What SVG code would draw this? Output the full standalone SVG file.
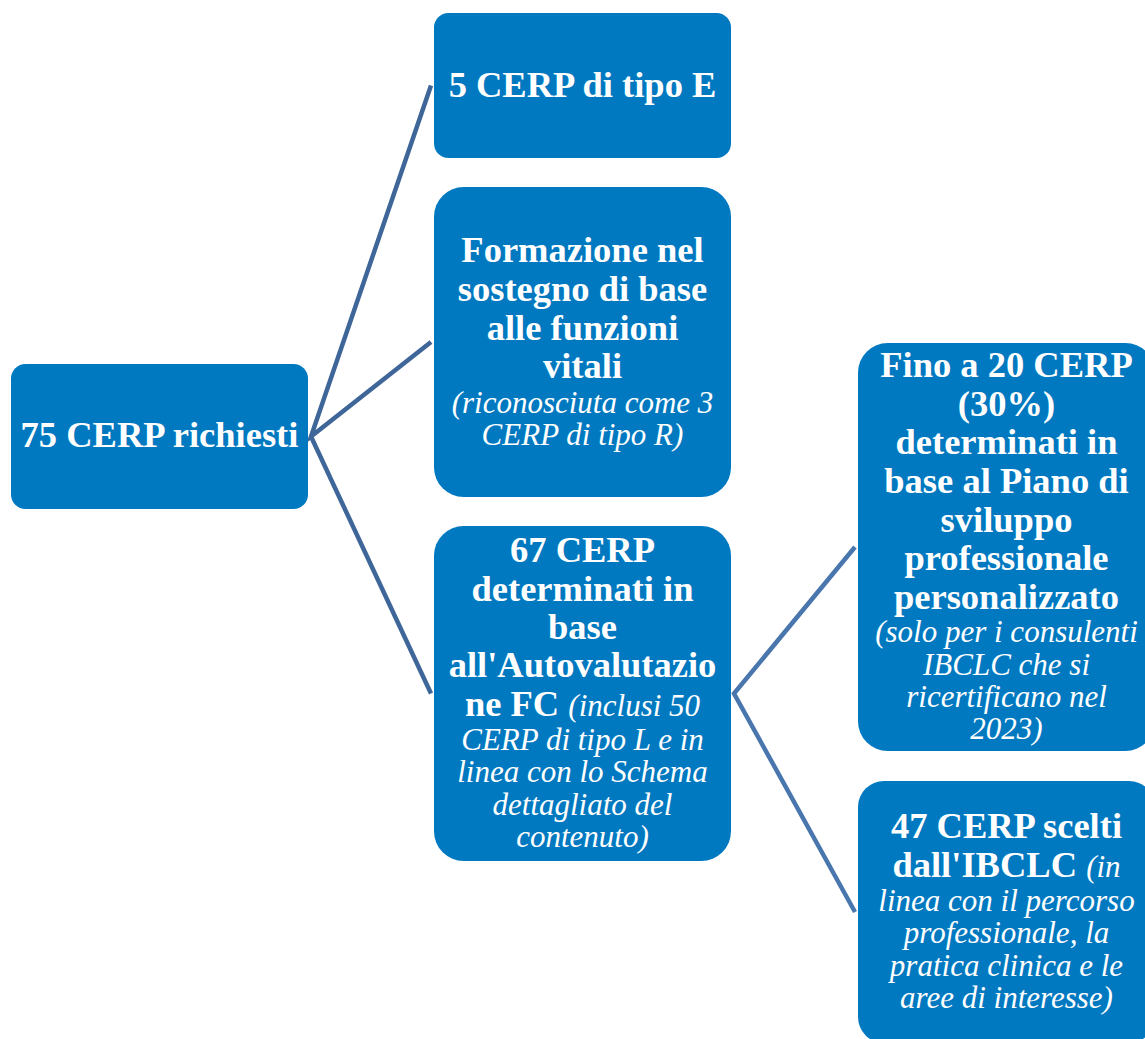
<svg xmlns="http://www.w3.org/2000/svg" width="1145" height="1039" viewBox="0 0 1145 1039">
<style>
.box{fill:#0179c1;}
.c1{stroke:#3f6699;stroke-width:4.5;fill:none;stroke-linejoin:miter;}
.c2{stroke:#4a76ae;stroke-width:4.5;fill:none;stroke-linejoin:miter;}
text{fill:#ffffff;font-family:"Liberation Serif","Times New Roman",serif;text-anchor:middle;}
.b{font-weight:bold;font-size:36.5px;}
.i{font-style:italic;font-weight:normal;font-size:31px;}
</style>
<rect width="1145" height="1039" fill="#ffffff"/>
<g id="connectors">
<polyline class="c1" points="431,85.5 311,436.5 431,342"/>
<line class="c1" x1="311" y1="436.5" x2="431" y2="693.5"/>
<polyline class="c2" points="855,547 734,693.5 855,912"/>
</g>
<g id="node-root">
<rect class="box" x="11" y="364" width="297" height="145" rx="14.5"/>
<text class="b" x="159.5" y="447">75 CERP richiesti</text>
</g>
<g id="node-e">
<rect class="box" x="434" y="13" width="297" height="145" rx="14.5"/>
<text class="b" x="582.5" y="97">5 CERP di tipo E</text>
</g>
<g id="node-formazione">
<rect class="box" x="434" y="187" width="297" height="310" rx="29.7"/>
<text class="b" x="582.5"><tspan x="582.5" y="262">Formazione nel</tspan><tspan x="582.5" y="301">sostegno di base</tspan><tspan x="582.5" y="340">alle funzioni</tspan><tspan x="582.5" y="378">vitali</tspan></text>
<text class="i" x="582.5"><tspan x="582.5" y="413">(riconosciuta come 3</tspan><tspan x="582.5" y="445">CERP di tipo R)</tspan></text>
</g>
<g id="node-67">
<rect class="box" x="434" y="526" width="297" height="335" rx="29.7"/>
<text class="b" x="582.5"><tspan x="582.5" y="562">67 CERP</tspan><tspan x="582.5" y="601">determinati in</tspan><tspan x="582.5" y="639">base</tspan><tspan x="582.5" y="677">all'Autovalutazio</tspan><tspan x="582.5" y="716">ne FC <tspan class="i">(inclusi 50</tspan></tspan></text>
<text class="i" x="582.5"><tspan x="582.5" y="750">CERP di tipo L e in</tspan><tspan x="582.5" y="782">linea con lo Schema</tspan><tspan x="582.5" y="815">dettagliato del</tspan><tspan x="582.5" y="847">contenuto)</tspan></text>
</g>
<g id="node-fino">
<rect class="box" x="858" y="343" width="297" height="408" rx="29.7"/>
<text class="b" x="1006.5"><tspan x="1006.5" y="377">Fino a 20 CERP</tspan><tspan x="1006.5" y="416">(30%)</tspan><tspan x="1006.5" y="454">determinati in</tspan><tspan x="1006.5" y="493">base al Piano di</tspan><tspan x="1006.5" y="532">sviluppo</tspan><tspan x="1006.5" y="570">professionale</tspan><tspan x="1006.5" y="609">personalizzato</tspan></text>
<text class="i" x="1006.5"><tspan x="1006.5" y="642">(solo per i consulenti</tspan><tspan x="1006.5" y="675">IBCLC che si</tspan><tspan x="1006.5" y="707">ricertificano nel</tspan><tspan x="1006.5" y="739">2023)</tspan></text>
</g>
<g id="node-47">
<rect class="box" x="858" y="781" width="297" height="262" rx="26"/>
<text class="b" x="1006.5"><tspan x="1006.5" y="838">47 CERP scelti</tspan><tspan x="1006.5" y="877">dall'IBCLC <tspan class="i">(in</tspan></tspan></text>
<text class="i" x="1006.5"><tspan x="1006.5" y="911">linea con il percorso</tspan><tspan x="1006.5" y="943">professionale, la</tspan><tspan x="1006.5" y="976">pratica clinica e le</tspan><tspan x="1006.5" y="1008">aree di interesse)</tspan></text>
</g>
</svg>
